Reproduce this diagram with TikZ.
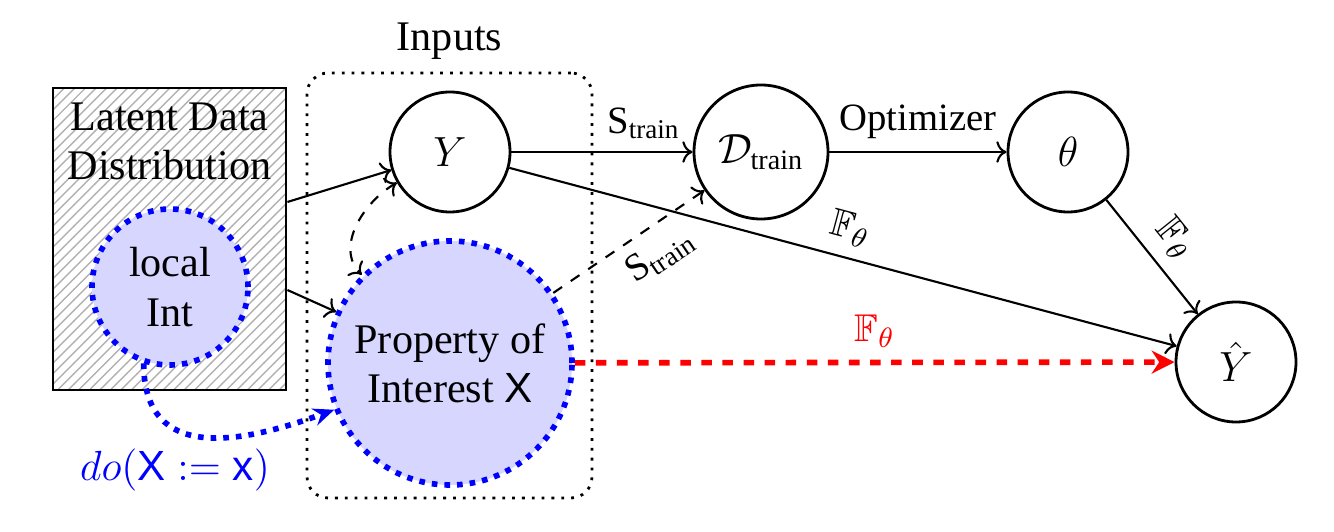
\documentclass[tikz,border=0pt]{standalone}
\usepackage{fontspec}
\setmainfont{Liberation Serif}
\setsansfont{Liberation Sans}
\usepackage{amssymb}
\usetikzlibrary{arrows.meta,patterns}

\begin{document}
\begin{tikzpicture}[
    font=\fontsize{12}{14}\selectfont,
    var/.style={draw,thick,shape=circle,minimum size=1.2cm,inner sep=1pt},
    intv/.style={shape=circle,fill=blue!16,draw=blue,ultra thick,dotted,inner sep=1pt},
    edgelbl/.style={font=\fontsize{11}{13}\selectfont},
    arr/.style={->,semithick},
  ]
    \useasboundingbox (0,0) rectangle (13.34,-5.32);
    \node[draw,thick,pattern=north east lines,pattern color=gray!60,minimum width=2.33cm,minimum height=3.02cm] (LD) at (1.695,-2.39) {};
    \node[align=center,below=1pt] (LT) at (LD.north) {Latent Data\\Distribution};
    \node[intv,minimum size=1.56cm,align=center] (LI) at (1.70,-2.87) {local\\Int};
    \node[draw,thick,dotted,rounded corners=6pt,minimum width=2.85cm,minimum height=4.25cm,label=above:Inputs] (IN) at (4.495,-2.855) {};
    \node[var] (Y) at (4.50,-1.52) {$Y$};
    \node[intv,minimum size=2.44cm,align=center] (PX) at (4.50,-3.63) {Property of\\Interest \textsf{X}};
    \node[var,minimum size=1.34cm] (DT) at (7.61,-1.52) {$\mathcal{D}_{\mathrm{train}}$};
    \node[var] (TH) at (10.68,-1.52) {$\theta$};
    \node[var] (YH) at (12.36,-3.62) {$\hat{Y}$};

    \draw[arr] ([yshift=0.37cm]LD.east) -- (Y);
    \draw[arr] ([yshift=-0.51cm]LD.east) -- (PX);
    \draw[arr] (Y) -- node[edgelbl,above,pos=0.73] {$\mathrm{S}_{\mathrm{train}}$} (DT);
    \draw[arr] (DT) -- node[edgelbl,above] {Optimizer} (TH);
    \draw[arr] (TH) -- node[edgelbl,above,sloped] {$\mathbb{F}_\theta$} (YH);
    \draw[arr] (Y) -- node[edgelbl,above,sloped] {$\mathbb{F}_\theta$} (YH);
    \draw[arr,dashed] (PX) -- node[edgelbl,below,sloped,pos=0.6] {$\mathrm{S}_{\mathrm{train}}$} (DT);
    \draw[arr,dashed,<->] (Y) to[out=210,in=135] (PX);
    \draw[red,ultra thick,dashed,-{Stealth[length=6.5pt,width=6.5pt]}] (PX) -- node[edgelbl,above] {$\mathbb{F}_\theta$} (YH);
    \draw[blue,ultra thick,dotted,-{Stealth[length=6pt,width=5pt]}] (LI.251) to[out=270,in=200,looseness=1.3] node[pos=0.35,below=1.5pt] {$do(\mathsf{X} := \mathsf{x})$} (PX.202);
\end{tikzpicture}
\end{document}
